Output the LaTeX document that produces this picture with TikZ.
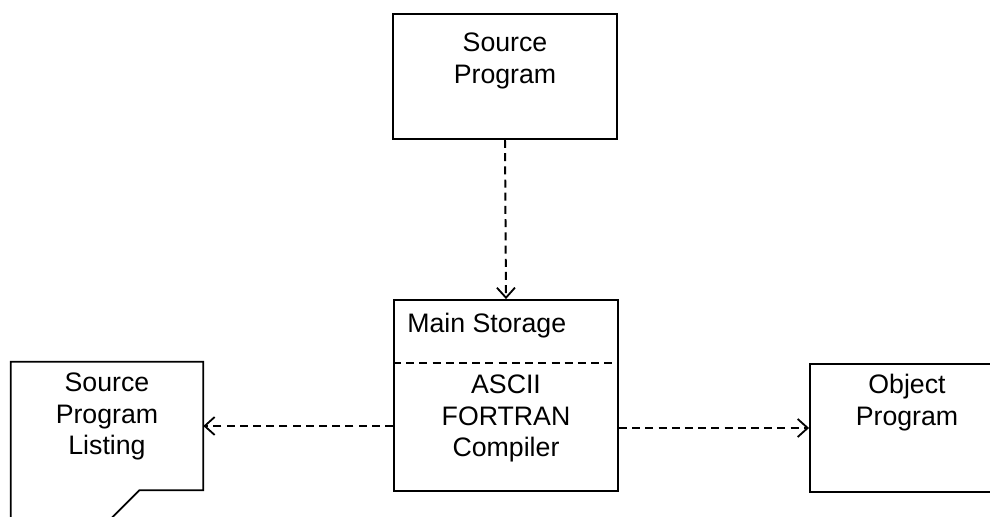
\documentclass[tikz,border=0pt]{standalone}
\usepackage{fontspec}
\setmainfont{Liberation Sans}
\usetikzlibrary{arrows.meta, positioning, calc}
\tikzstyle{block} = [rectangle, draw=black, line width=1.3pt, inner sep=0pt]
\tikzstyle{boxtext} = [align=center, inner sep=0pt, font=\fontsize{19}{22.5}\selectfont]
\tikzstyle{flow} = [line width=1.4pt, dash pattern=on 0.2cm off 0.13cm, -{Straight Barb[length=0.25cm, width=0.45cm, line width=1.3pt]}]

\begin{document}
\begin{tikzpicture}[x=0.025cm, y=-0.025cm]
    \useasboundingbox (0,0) rectangle (990,517);
    \clip (0,0) rectangle (990,517);

    % Source Program (Top)
    \node (src) [block, minimum width=5.6cm, minimum height=3.125cm] at (505,76.5) {};
    \node (srctext) [boxtext] at (505,61) {Source\\Program};

    % Main Storage (Center)
    \node (main) [block, minimum width=5.6cm, minimum height=4.775cm] at (506,395.5) {};
    \node (maintitle) [boxtext, anchor=base west] at (407,332) {Main Storage};
    \coordinate (divider) at (506,363);
    \draw [line width=1.2pt, dash pattern=on 0.2cm off 0.13cm] (main.west |- divider) -- (main.east |- divider);
    \node (compiler) [boxtext] at (506,418.5) {ASCII\\FORTRAN\\Compiler};

    % Source Program Listing (Left)
    \node (listing) [minimum width=4.8cm, minimum height=3.2cm] at (107,426) {};
    \draw [line width=1.3pt] (listing.south west) ++(0,40) -- (listing.north west) -- (listing.north east)
        -- (listing.south east) -- ++(-64,0) -- ++(-40,40);
    \node (listtext) [boxtext] at (107,416.5) {Source\\Program\\Listing};

    % Object Program (Right)
    \node (obj) [block, minimum width=4.85cm, minimum height=3.2cm] at (907,428) {};
    \node (objtext) [boxtext] at (907,402.5) {Object\\Program};

    % Arrows
    \draw [flow] (src.south) -- (main.north);
    \draw [flow] (main.west |- listing.east) -- (listing.east);
    \draw [flow] (main.east |- obj.west) -- (obj.west);

\end{tikzpicture}
\end{document}
